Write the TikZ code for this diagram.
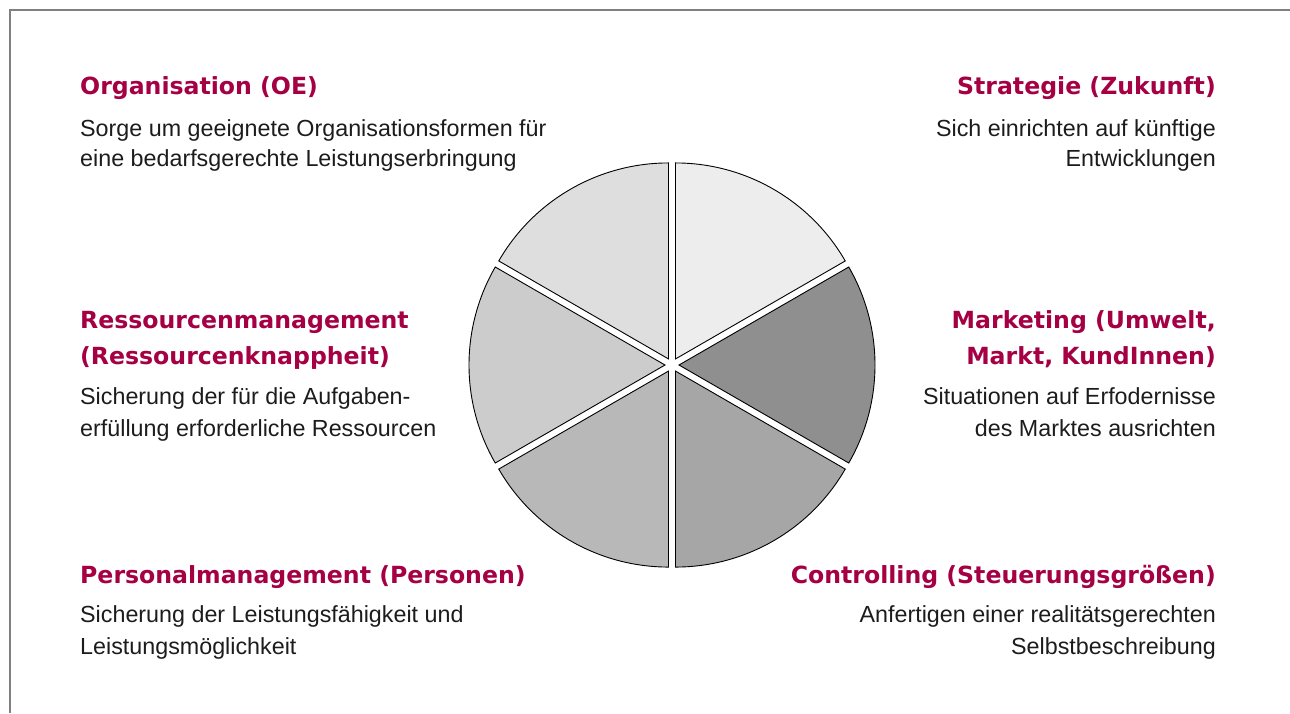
\documentclass[tikz,border=0pt]{standalone}
\usepackage{fontspec}
\setmainfont{Liberation Sans}
\newfontfamily\headfont{DejaVu Sans}

\definecolor{headred}{RGB}{165,0,68}
\definecolor{bodyblack}{RGB}{28,28,28}
\definecolor{framegray}{RGB}{128,128,128}

\tikzset{
  heading/.style={font=\headfont\bfseries\fontsize{23.6}{28}\selectfont, text=headred, inner sep=0pt},
  bodytext/.style={font=\fontsize{23.3}{30}\selectfont, text=bodyblack, inner sep=0pt},
  slice/.style={draw=black, line width=0.9pt}
}

\begin{document}
\begin{tikzpicture}[x=1pt,y=1pt]
        \useasboundingbox (0,0) rectangle (1290,-713);
        \draw[framegray, line width=1.5pt] (10,-713) -- (10,-10) -- (1290,-10);
        % pie of six slices, each pushed out a little
        \coordinate (c) at (672,-365);
        \foreach \a/\g in {60/7,0/44,-60/35,-120/28,180/20,120/13} {
            \draw[slice, fill=black!\g, shift={(c)}, shift={(\a:7pt)}]
                (0,0) -- (\a-30:196pt) arc[start angle=\a-30, end angle=\a+30, radius=196pt] -- cycle;
        }
        % left column
        \foreach \n/\y/\t in {org/94/Organisation (OE), res1/328/Ressourcenmanagement,
                res2/364/(Ressourcenknappheit), pers/583/Personalmanagement (Personen)} {
            \node[heading, anchor=base west] (head-\n) at (80,-\y) {\t};
        }
        \foreach \n/\y/\t in {org1/136/Sorge um geeignete Organisationsformen für,
                org2/166/eine bedarfsgerechte Leistungserbringung,
                res1/404/Sicherung der für die Aufgaben-,
                res2/436/erfüllung erforderliche Ressourcen,
                pers1/622/Sicherung der Leistungsfähigkeit und,
                pers2/654/Leistungsmöglichkeit} {
            \node[bodytext, anchor=base west] (txt-\n) at (80,-\y) {\t};
        }
        % right column
        \foreach \n/\y/\t in {strat/94/Strategie (Zukunft), mark1/328/{Marketing (Umwelt,},
                mark2/364/{Markt, KundInnen)}, contr/583/Controlling (Steuerungsgrößen)} {
            \node[heading, anchor=base east] (head-\n) at (1216,-\y) {\t};
        }
        \foreach \n/\y/\t in {strat1/136/Sich einrichten auf künftige,
                strat2/166/Entwicklungen,
                mark1/404/Situationen auf Erfodernisse,
                mark2/436/des Marktes ausrichten,
                contr1/622/Anfertigen einer realitätsgerechten,
                contr2/654/Selbstbeschreibung} {
            \node[bodytext, anchor=base east] (txt-\n) at (1216,-\y) {\t};
        }
\end{tikzpicture}
\end{document}
